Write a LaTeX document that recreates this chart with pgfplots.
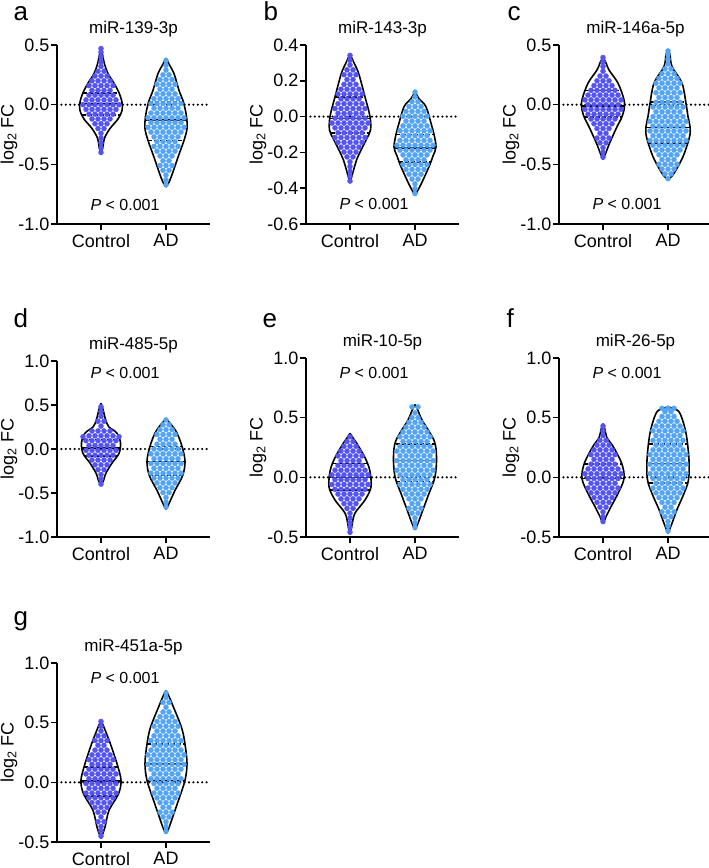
\documentclass[border=0pt]{standalone}
\usepackage{pgfplots}
\usepackage{pgfplotstable}
\usepackage{fontspec}
\setmainfont{Liberation Sans}
\pgfplotsset{compat=1.18}
\definecolor{ctrl}{RGB}{84,84,245}
\definecolor{adc}{RGB}{84,164,245}

% violin outlines: y and half width (x units = pt)
\pgfplotstableread{
y w
-0.42 0
-0.35 2
-0.28 3.5
-0.2 9
-0.12 17
-0.05 21
0.02 21
0.1 18
0.18 13
0.26 7
0.34 3.5
0.42 1.5
0.46 0
}\vaC
\pgfplotstableread{
y w
-0.69 0
-0.65 3
-0.57 6.7
-0.44 12
-0.3 18
-0.2 21
-0.1 20.5
0.02 17.5
0.12 13
0.26 8
0.34 3
0.39 0
}\vaA
\pgfplotstableread{
y w
-0.37 0
-0.3 3.5
-0.24 6.7
-0.17 12.5
-0.12 17
-0.075 20.5
0.0 20
0.11 15
0.24 8.7
0.3 4
0.35 0
}\vbC
\pgfplotstableread{
y w
-0.44 0
-0.41 3
-0.37 6.7
-0.28 14
-0.22 18
-0.17 21
-0.1 19
-0.037 16
0.055 11
0.1 4
0.14 0
}\vbA
\pgfplotstableread{
y w
-0.46 0
-0.4 3
-0.32 6.7
-0.185 14
-0.12 18
-0.045 21
0.04 21
0.18 15
0.29 6
0.35 3
0.40 0
}\vcC
\pgfplotstableread{
y w
-0.63 0
-0.575 6
-0.436 15
-0.27 21.5
-0.185 22
-0.1 20
0.01 18
0.18 14
0.32 4
0.42 2
0.46 0
}\vcA
\pgfplotstableread{
y w
-0.41 0
-0.36 2.5
-0.28 4.7
-0.16 11
-0.05 18
0.07 19.5
0.18 16
0.25 8
0.33 4.7
0.45 2
0.52 0
}\vdC
\pgfplotstableread{
y w
-0.685 0
-0.62 3
-0.47 9
-0.3 16.7
-0.14 19
0.03 16
0.18 11
0.28 5
0.34 0
}\vdA
\pgfplotstableread{
y w
-0.48 0
-0.4 2
-0.3 5
-0.19 15
-0.08 21
0.06 19.7
0.17 14.7
0.285 6.7
0.33 3
0.37 0
}\veC
\pgfplotstableread{
y w
-0.44 0
-0.385 3
-0.27 8
-0.135 14
0.005 20
0.17 21.5
0.31 19
0.48 7
0.56 3
0.61 0
}\veA
\pgfplotstableread{
y w
-0.39 0
-0.33 3
-0.246 8
-0.135 15
-0.01 21
0.117 18.7
0.26 10
0.33 4
0.40 2
0.45 0
}\vfC
\pgfplotstableread{
y w
-0.47 0
-0.385 4
-0.27 9
-0.135 16
-0.02 20.5
0.145 21
0.37 18
0.536 12
0.575 6
0.59 0
}\vfA
\pgfplotstableread{
y w
-0.47 0
-0.375 4
-0.235 8
-0.096 17.5
0.017 20
0.156 16
0.32 9.5
0.44 4
0.52 0
}\vgC
\pgfplotstableread{
y w
-0.43 0
-0.38 3
-0.29 6.7
-0.15 12.5
0.017 19
0.156 21
0.32 19
0.46 15.5
0.66 6
0.72 3
0.77 0
}\vgA

\pgfplotsset{
  vp/.style={
    width=153pt, height=179pt, scale only axis,
    xmin=-44, xmax=109, clip=false,
    axis x line*=bottom, axis y line*=left,
    axis line style={line width=1.6pt},
    every tick/.style={black, line width=1.6pt},
    tick align=outside, major tick length=6pt,
    xtick={0,65}, xticklabels={Control,AD},
    tick label style={font=\fontsize{18}{20}\selectfont},
    yticklabel style={inner xsep=1.5pt},
    xticklabel style={inner ysep=1pt, yshift=-3pt},
    ylabel={log\textsubscript{2} FC},
    ylabel style={at={(axis description cs:-0.314,0.5)}, anchor=center, font=\fontsize{18}{20}\selectfont},
    every axis title/.style={at={(axis description cs:0.5,1.0615)}, anchor=base, font=\fontsize{17}{19}\selectfont},
  },
  zl/.style={black, line width=2.4pt, line cap=round, dash pattern=on 0pt off 4.4pt},
  dC/.style={only marks, mark=*, mark size=2.5pt, color=ctrl},
  dA/.style={only marks, mark=*, mark size=2.5pt, color=adc},
  vln/.style={black, line width=1.6pt, smooth, tension=0.55, mark=none},
  med/.style={black, line width=1.6pt, mark=none},
  qrt/.style={black, line width=1.6pt, mark=none, dash pattern=on 4pt off 2pt},
}
\newcommand{\pval}[2]{\node[anchor=base, font=\fontsize{16}{18}\selectfont] at (axis cs:#1,#2) {\textit{P} < 0.001};}

\begin{document}
\begin{tikzpicture}
\useasboundingbox (0,0) rectangle (709pt,868pt);
\tikzset{lab/.style={anchor=base west, font=\fontsize{26}{28}\selectfont}}
\node[lab] at (10pt,847pt) {a};
\node[lab] at (260pt,847pt) {b};
\node[lab] at (504pt,847pt) {c};
\node[lab] at (10pt,540pt) {d};
\node[lab] at (259pt,540pt) {e};
\node[lab] at (503pt,540pt) {f};
\node[lab] at (10pt,242pt) {g};

% ---------------- a
\begin{axis}[vp, at={(57pt,644pt)}, anchor=south west, title={miR-139-3p},
  ymin=-1, ymax=0.5, ytick={-1,-0.5,0,0.5}, yticklabels={-1.0,-0.5,0.0,0.5}]
\addplot[zl] coordinates {(-44,0) (109,0)};
\addplot[dC] coordinates {
(0,-0.40) (0,-0.36) (0,-0.32) (0,-0.28) (0,-0.24)
(-3,-0.20) (3,-0.20)
(-6,-0.16) (0,-0.16) (6,-0.16)
(-9,-0.12) (-3,-0.12) (3,-0.12) (9,-0.12)
(-12,-0.08) (-6,-0.08) (0,-0.08) (6,-0.08) (12,-0.08)
(-15,-0.04) (-9,-0.04) (-3,-0.04) (3,-0.04) (9,-0.04) (15,-0.04)
(-18,0.00) (-12,0.00) (-6,0.00) (0,0.00) (6,0.00) (12,0.00) (18,0.00)
(-15,0.04) (-9,0.04) (-3,0.04) (3,0.04) (9,0.04) (15,0.04)
(-12,0.08) (-6,0.08) (0,0.08) (6,0.08) (12,0.08)
(-9,0.12) (-3,0.12) (3,0.12) (9,0.12)
(-12,0.16) (-6,0.16) (0,0.16) (6,0.16) (12,0.16)
(-9,0.20) (-3,0.20) (3,0.20) (9,0.20)
(-6,0.24) (0,0.24) (6,0.24)
(-3,0.28) (3,0.28)
(0,0.32) (0,0.36) (0,0.40) (0,0.44) (0,0.47)
};
\addplot[dA] coordinates {
(65,-0.67) (65,-0.63) (65,-0.59)
(62,-0.55) (68,-0.55)
(59,-0.51) (65,-0.51) (71,-0.51)
(62,-0.47) (68,-0.47)
(59,-0.43) (65,-0.43) (71,-0.43)
(56,-0.39) (62,-0.39) (68,-0.39) (74,-0.39)
(53,-0.35) (59,-0.35) (65,-0.35) (71,-0.35) (77,-0.35)
(56,-0.31) (62,-0.31) (68,-0.31) (74,-0.31)
(53,-0.27) (59,-0.27) (65,-0.27) (71,-0.27) (77,-0.27)
(50,-0.23) (56,-0.23) (62,-0.23) (68,-0.23) (74,-0.23) (80,-0.23)
(47,-0.19) (53,-0.19) (59,-0.19) (65,-0.19) (71,-0.19) (77,-0.19) (83,-0.19)
(50,-0.15) (56,-0.15) (62,-0.15) (68,-0.15) (74,-0.15) (80,-0.15)
(47,-0.11) (53,-0.11) (59,-0.11) (65,-0.11) (71,-0.11) (77,-0.11) (83,-0.11)
(50,-0.07) (56,-0.07) (62,-0.07) (68,-0.07) (74,-0.07) (80,-0.07)
(53,-0.03) (59,-0.03) (65,-0.03) (71,-0.03) (77,-0.03)
(50,0.01) (56,0.01) (62,0.01) (68,0.01) (74,0.01) (80,0.01)
(53,0.05) (59,0.05) (65,0.05) (71,0.05) (77,0.05)
(56,0.09) (62,0.09) (68,0.09) (74,0.09)
(59,0.13) (65,0.13) (71,0.13)
(56,0.17) (62,0.17) (68,0.17) (74,0.17)
(59,0.21) (65,0.21) (71,0.21)
(62,0.25) (68,0.25)
(65,0.29) (65,0.33) (65,0.37)
};
\addplot[vln] table[x expr=\thisrow{w}, y=y] {\vaC};
\addplot[vln] table[x expr=-\thisrow{w}, y=y] {\vaC};
\addplot[vln] table[x expr=65+\thisrow{w}, y=y] {\vaA};
\addplot[vln] table[x expr=65-\thisrow{w}, y=y] {\vaA};
\addplot[qrt] coordinates {(-18,0.1) (18,0.1)};
\addplot[med] coordinates {(-21,0.01) (21,0.01)};
\addplot[qrt] coordinates {(-19,-0.085) (19,-0.085)};
\addplot[qrt] coordinates {(47.5,0.02) (82.5,0.02)};
\addplot[med] coordinates {(44.4,-0.13) (85.6,-0.13)};
\addplot[qrt] coordinates {(47,-0.30) (83,-0.30)};
\pval{24}{-0.89}
\end{axis}

% ---------------- b
\begin{axis}[vp, at={(306pt,644pt)}, anchor=south west, title={miR-143-3p},
  ymin=-0.6, ymax=0.4, ytick={-0.6,-0.4,-0.2,0,0.2,0.4}, yticklabels={-0.6,-0.4,-0.2,0.0,0.2,0.4}]
\addplot[zl] coordinates {(-44,0) (109,0)};
\addplot[dC] coordinates {
(0,-0.360) (0,-0.333) (0,-0.306) (0,-0.279) (0,-0.252)
(-3,-0.225) (3,-0.225)
(-6,-0.198) (0,-0.198) (6,-0.198)
(-9,-0.171) (-3,-0.171) (3,-0.171) (9,-0.171)
(-12,-0.144) (-6,-0.144) (0,-0.144) (6,-0.144) (12,-0.144)
(-15,-0.117) (-9,-0.117) (-3,-0.117) (3,-0.117) (9,-0.117) (15,-0.117)
(-12,-0.090) (-6,-0.090) (0,-0.090) (6,-0.090) (12,-0.090)
(-15,-0.063) (-9,-0.063) (-3,-0.063) (3,-0.063) (9,-0.063) (15,-0.063)
(-18,-0.036) (-12,-0.036) (-6,-0.036) (0,-0.036) (6,-0.036) (12,-0.036) (18,-0.036)
(-15,-0.009) (-9,-0.009) (-3,-0.009) (3,-0.009) (9,-0.009) (15,-0.009)
(-12,0.018) (-6,0.018) (0,0.018) (6,0.018) (12,0.018)
(-15,0.045) (-9,0.045) (-3,0.045) (3,0.045) (9,0.045) (15,0.045)
(-12,0.072) (-6,0.072) (0,0.072) (6,0.072) (12,0.072)
(-9,0.099) (-3,0.099) (3,0.099) (9,0.099)
(-12,0.126) (-6,0.126) (0,0.126) (6,0.126) (12,0.126)
(-9,0.153) (-3,0.153) (3,0.153) (9,0.153)
(-6,0.180) (0,0.180) (6,0.180)
(-3,0.207) (3,0.207)
(-6,0.234) (0,0.234) (6,0.234)
(-3,0.261) (3,0.261)
(0,0.288) (0,0.315) (0,0.342)
};
\addplot[dA] coordinates {
(65,-0.430) (65,-0.403) (65,-0.376)
(62,-0.349) (68,-0.349)
(59,-0.322) (65,-0.322) (71,-0.322)
(56,-0.295) (62,-0.295) (68,-0.295) (74,-0.295)
(53,-0.268) (59,-0.268) (65,-0.268) (71,-0.268) (77,-0.268)
(56,-0.241) (62,-0.241) (68,-0.241) (74,-0.241)
(53,-0.214) (59,-0.214) (65,-0.214) (71,-0.214) (77,-0.214)
(50,-0.187) (56,-0.187) (62,-0.187) (68,-0.187) (74,-0.187) (80,-0.187)
(47,-0.160) (53,-0.160) (59,-0.160) (65,-0.160) (71,-0.160) (77,-0.160) (83,-0.160)
(50,-0.133) (56,-0.133) (62,-0.133) (68,-0.133) (74,-0.133) (80,-0.133)
(53,-0.106) (59,-0.106) (65,-0.106) (71,-0.106) (77,-0.106)
(50,-0.079) (56,-0.079) (62,-0.079) (68,-0.079) (74,-0.079) (80,-0.079)
(53,-0.052) (59,-0.052) (65,-0.052) (71,-0.052) (77,-0.052)
(56,-0.025) (62,-0.025) (68,-0.025) (74,-0.025)
(53,0.002) (59,0.002) (65,0.002) (71,0.002) (77,0.002)
(56,0.029) (62,0.029) (68,0.029) (74,0.029)
(59,0.056) (65,0.056) (71,0.056)
(62,0.083) (68,0.083)
(65,0.110) (65,0.137)
};
\addplot[vln] table[x expr=\thisrow{w}, y=y] {\vbC};
\addplot[vln] table[x expr=-\thisrow{w}, y=y] {\vbC};
\addplot[vln] table[x expr=65+\thisrow{w}, y=y] {\vbA};
\addplot[vln] table[x expr=65-\thisrow{w}, y=y] {\vbA};
\addplot[qrt] coordinates {(-15,0.11) (15,0.11)};
\addplot[med] coordinates {(-20.1,-0.01) (20.1,-0.01)};
\addplot[qrt] coordinates {(-19.3,-0.09) (19.3,-0.09)};
\addplot[qrt] coordinates {(46,-0.099) (84,-0.099)};
\addplot[med] coordinates {(44.4,-0.177) (85.6,-0.177)};
\addplot[qrt] coordinates {(49.1,-0.252) (80.9,-0.252)};
\pval{24}{-0.52}
\end{axis}

% ---------------- c
\begin{axis}[vp, at={(559pt,644pt)}, anchor=south west, title={miR-146a-5p},
  ymin=-1, ymax=0.5, ytick={-1,-0.5,0,0.5}, yticklabels={-1.0,-0.5,0.0,0.5}]
\addplot[zl] coordinates {(-44,0) (109,0)};
\addplot[dC] coordinates {
(0,-0.44) (0,-0.40) (0,-0.36)
(-3,-0.32) (3,-0.32)
(-6,-0.28) (0,-0.28) (6,-0.28)
(-3,-0.24) (3,-0.24)
(-6,-0.20) (0,-0.20) (6,-0.20)
(-9,-0.16) (-3,-0.16) (3,-0.16) (9,-0.16)
(-12,-0.12) (-6,-0.12) (0,-0.12) (6,-0.12) (12,-0.12)
(-15,-0.08) (-9,-0.08) (-3,-0.08) (3,-0.08) (9,-0.08) (15,-0.08)
(-18,-0.04) (-12,-0.04) (-6,-0.04) (0,-0.04) (6,-0.04) (12,-0.04) (18,-0.04)
(-15,0.00) (-9,0.00) (-3,0.00) (3,0.00) (9,0.00) (15,0.00)
(-18,0.04) (-12,0.04) (-6,0.04) (0,0.04) (6,0.04) (12,0.04) (18,0.04)
(-15,0.08) (-9,0.08) (-3,0.08) (3,0.08) (9,0.08) (15,0.08)
(-12,0.12) (-6,0.12) (0,0.12) (6,0.12) (12,0.12)
(-9,0.16) (-3,0.16) (3,0.16) (9,0.16)
(-6,0.20) (0,0.20) (6,0.20)
(-3,0.24) (3,0.24)
(0,0.28) (0,0.32) (0,0.36) (0,0.395)
};
\addplot[dA] coordinates {
(65,-0.62)
(62,-0.58) (68,-0.58)
(59,-0.54) (65,-0.54) (71,-0.54)
(56,-0.50) (62,-0.50) (68,-0.50) (74,-0.50)
(59,-0.46) (65,-0.46) (71,-0.46)
(56,-0.42) (62,-0.42) (68,-0.42) (74,-0.42)
(53,-0.38) (59,-0.38) (65,-0.38) (71,-0.38) (77,-0.38)
(50,-0.34) (56,-0.34) (62,-0.34) (68,-0.34) (74,-0.34) (80,-0.34)
(47,-0.30) (53,-0.30) (59,-0.30) (65,-0.30) (71,-0.30) (77,-0.30) (83,-0.30)
(50,-0.26) (56,-0.26) (62,-0.26) (68,-0.26) (74,-0.26) (80,-0.26)
(47,-0.22) (53,-0.22) (59,-0.22) (65,-0.22) (71,-0.22) (77,-0.22) (83,-0.22)
(50,-0.18) (56,-0.18) (62,-0.18) (68,-0.18) (74,-0.18) (80,-0.18)
(47,-0.14) (53,-0.14) (59,-0.14) (65,-0.14) (71,-0.14) (77,-0.14) (83,-0.14)
(50,-0.10) (56,-0.10) (62,-0.10) (68,-0.10) (74,-0.10) (80,-0.10)
(53,-0.06) (59,-0.06) (65,-0.06) (71,-0.06) (77,-0.06)
(50,-0.02) (56,-0.02) (62,-0.02) (68,-0.02) (74,-0.02) (80,-0.02)
(53,0.02) (59,0.02) (65,0.02) (71,0.02) (77,0.02)
(56,0.06) (62,0.06) (68,0.06) (74,0.06)
(53,0.10) (59,0.10) (65,0.10) (71,0.10) (77,0.10)
(56,0.14) (62,0.14) (68,0.14) (74,0.14)
(53,0.18) (59,0.18) (65,0.18) (71,0.18) (77,0.18)
(56,0.22) (62,0.22) (68,0.22) (74,0.22)
(59,0.26) (65,0.26) (71,0.26)
(62,0.30) (68,0.30)
(65,0.34) (65,0.38) (65,0.42) (65,0.45)
};
\addplot[vln] table[x expr=\thisrow{w}, y=y] {\vcC};
\addplot[vln] table[x expr=-\thisrow{w}, y=y] {\vcC};
\addplot[vln] table[x expr=65+\thisrow{w}, y=y] {\vcA};
\addplot[vln] table[x expr=65-\thisrow{w}, y=y] {\vcA};
\addplot[qrt] coordinates {(-17.6,0.12) (17.6,0.12)};
\addplot[med] coordinates {(-21,-0.01) (21,-0.01)};
\addplot[qrt] coordinates {(-18.6,-0.105) (18.6,-0.105)};
\addplot[qrt] coordinates {(47.2,0.02) (82.8,0.02)};
\addplot[med] coordinates {(43.1,-0.19) (86.9,-0.19)};
\addplot[qrt] coordinates {(45.1,-0.32) (84.9,-0.32)};
\pval{24}{-0.88}
\end{axis}

% ---------------- d
\begin{axis}[vp, height=176pt, at={(57pt,331pt)}, anchor=south west, title={miR-485-5p},
  every axis title/.append style={at={(axis description cs:0.5,1.0625)}},
  ymin=-1, ymax=1, ytick={-1,-0.5,0,0.5,1}, yticklabels={-1.0,-0.5,0.0,0.5,1.0}]
\addplot[zl] coordinates {(-44,0) (109,0)};
\addplot[dC] coordinates {
(0,-0.400) (0,-0.345) (0,-0.290)
(-3,-0.235) (3,-0.235)
(-6,-0.180) (0,-0.180) (6,-0.180)
(-9,-0.125) (-3,-0.125) (3,-0.125) (9,-0.125)
(-12,-0.070) (-6,-0.070) (0,-0.070) (6,-0.070) (12,-0.070)
(-15,-0.015) (-9,-0.015) (-3,-0.015) (3,-0.015) (9,-0.015) (15,-0.015)
(-12,0.040) (-6,0.040) (0,0.040) (6,0.040) (12,0.040)
(-15,0.095) (-9,0.095) (-3,0.095) (3,0.095) (9,0.095) (15,0.095)
(-18,0.140) (-12,0.150) (-6,0.150) (0,0.150) (6,0.150) (12,0.150) (18,0.140)
(-9,0.205) (-3,0.205) (3,0.205) (9,0.205)
(0,0.260)
(-3,0.315) (3,0.315)
(0,0.370) (0,0.425) (0,0.480)
};
\addplot[dA] coordinates {
(65,-0.660) (65,-0.605) (65,-0.550)
(62,-0.495) (68,-0.495)
(59,-0.440) (65,-0.440) (71,-0.440)
(56,-0.385) (62,-0.385) (68,-0.385) (74,-0.385)
(53,-0.330) (59,-0.330) (65,-0.330) (71,-0.330) (77,-0.330)
(50,-0.275) (56,-0.275) (62,-0.275) (68,-0.275) (74,-0.275) (80,-0.275)
(53,-0.220) (59,-0.220) (65,-0.220) (71,-0.220) (77,-0.220)
(50,-0.165) (56,-0.165) (62,-0.165) (68,-0.165) (74,-0.165) (80,-0.165)
(53,-0.110) (59,-0.110) (65,-0.110) (71,-0.110) (77,-0.110)
(50,-0.055) (56,-0.055) (62,-0.055) (68,-0.055) (74,-0.055) (80,-0.055)
(53,0.000) (59,0.000) (65,0.000) (71,0.000) (77,0.000)
(56,0.055) (62,0.055) (68,0.055) (74,0.055)
(59,0.110) (65,0.110) (71,0.110)
(56,0.165) (62,0.165) (68,0.165) (74,0.165)
(59,0.220) (65,0.220) (71,0.220)
(62,0.275) (68,0.275)
(65,0.330)
};
\addplot[vln] table[x expr=\thisrow{w}, y=y] {\vdC};
\addplot[vln] table[x expr=-\thisrow{w}, y=y] {\vdC};
\addplot[vln] table[x expr=65+\thisrow{w}, y=y] {\vdA};
\addplot[vln] table[x expr=65-\thisrow{w}, y=y] {\vdA};
\addplot[qrt] coordinates {(-18.2,0.11) (18.2,0.11)};
\addplot[med] coordinates {(-18.8,0.01) (18.8,0.01)};
\addplot[qrt] coordinates {(-16.1,-0.08) (16.1,-0.08)};
\addplot[qrt] coordinates {(49,0.03) (81,0.03)};
\addplot[med] coordinates {(46,-0.14) (84,-0.14)};
\addplot[qrt] coordinates {(48.3,-0.30) (81.7,-0.30)};
\pval{24}{0.80}
\end{axis}

% ---------------- e
\begin{axis}[vp, at={(306pt,331pt)}, anchor=south west, title={miR-10-5p},
  ymin=-0.5, ymax=1, ytick={-0.5,0,0.5,1}, yticklabels={-0.5,0.0,0.5,1.0}]
\addplot[zl] coordinates {(-44,0) (109,0)};
\addplot[dC] coordinates {
(0,-0.46) (0,-0.42) (0,-0.38) (0,-0.34) (0,-0.30)
(-3,-0.26) (3,-0.26)
(-6,-0.22) (0,-0.22) (6,-0.22)
(-9,-0.18) (-3,-0.18) (3,-0.18) (9,-0.18)
(-12,-0.14) (-6,-0.14) (0,-0.14) (6,-0.14) (12,-0.14)
(-15,-0.10) (-9,-0.10) (-3,-0.10) (3,-0.10) (9,-0.10) (15,-0.10)
(-18,-0.06) (-12,-0.06) (-6,-0.06) (0,-0.06) (6,-0.06) (12,-0.06) (18,-0.06)
(-15,-0.02) (-9,-0.02) (-3,-0.02) (3,-0.02) (9,-0.02) (15,-0.02)
(-18,0.02) (-12,0.02) (-6,0.02) (0,0.02) (6,0.02) (12,0.02) (18,0.02)
(-15,0.06) (-9,0.06) (-3,0.06) (3,0.06) (9,0.06) (15,0.06)
(-12,0.10) (-6,0.10) (0,0.10) (6,0.10) (12,0.10)
(-9,0.14) (-3,0.14) (3,0.14) (9,0.14)
(-12,0.18) (-6,0.18) (0,0.18) (6,0.18) (12,0.18)
(-9,0.22) (-3,0.22) (3,0.22) (9,0.22)
(-6,0.26) (0,0.26) (6,0.26)
(-3,0.30) (3,0.30)
(0,0.34)
};
\addplot[dA] coordinates {
(65,-0.42) (65,-0.38) (65,-0.34)
(62,-0.30) (68,-0.30)
(59,-0.26) (65,-0.26) (71,-0.26)
(62,-0.22) (68,-0.22)
(59,-0.18) (65,-0.18) (71,-0.18)
(56,-0.14) (62,-0.14) (68,-0.14) (74,-0.14)
(53,-0.10) (59,-0.10) (65,-0.10) (71,-0.10) (77,-0.10)
(50,-0.06) (56,-0.06) (62,-0.06) (68,-0.06) (74,-0.06) (80,-0.06)
(53,-0.02) (59,-0.02) (65,-0.02) (71,-0.02) (77,-0.02)
(50,0.02) (56,0.02) (62,0.02) (68,0.02) (74,0.02) (80,0.02)
(47,0.06) (53,0.06) (59,0.06) (65,0.06) (71,0.06) (77,0.06) (83,0.06)
(50,0.10) (56,0.10) (62,0.10) (68,0.10) (74,0.10) (80,0.10)
(47,0.14) (53,0.14) (59,0.14) (65,0.14) (71,0.14) (77,0.14) (83,0.14)
(50,0.18) (56,0.18) (62,0.18) (68,0.18) (74,0.18) (80,0.18)
(47,0.22) (53,0.22) (59,0.22) (65,0.22) (71,0.22) (77,0.22) (83,0.22)
(50,0.26) (56,0.26) (62,0.26) (68,0.26) (74,0.26) (80,0.26)
(53,0.30) (59,0.30) (65,0.30) (71,0.30) (77,0.30)
(50,0.34) (56,0.34) (62,0.34) (68,0.34) (74,0.34) (80,0.34)
(53,0.38) (59,0.38) (65,0.38) (71,0.38) (77,0.38)
(56,0.42) (62,0.42) (68,0.42) (74,0.42)
(59,0.46) (65,0.46) (71,0.46)
(62,0.50) (68,0.50)
(65,0.54)
(62,0.59) (68,0.59)
};
\addplot[vln] table[x expr=\thisrow{w}, y=y] {\veC};
\addplot[vln] table[x expr=-\thisrow{w}, y=y] {\veC};
\addplot[vln] table[x expr=65+\thisrow{w}, y=y] {\veA};
\addplot[vln] table[x expr=65-\thisrow{w}, y=y] {\veA};
\addplot[qrt] coordinates {(-16.9,0.117) (16.9,0.117)};
\addplot[med] coordinates {(-20.3,0.0) (20.3,0.0)};
\addplot[qrt] coordinates {(-19.6,-0.105) (19.6,-0.105)};
\addplot[qrt] coordinates {(45.5,0.28) (84.5,0.28)};
\addplot[med] coordinates {(43.6,0.14) (86.4,0.14)};
\addplot[qrt] coordinates {(46.3,-0.035) (83.7,-0.035)};
\pval{24}{0.83}
\end{axis}

% ---------------- f
\begin{axis}[vp, at={(559pt,331pt)}, anchor=south west, title={miR-26-5p},
  ymin=-0.5, ymax=1, ytick={-0.5,0,0.5,1}, yticklabels={-0.5,0.0,0.5,1.0}]
\addplot[zl] coordinates {(-44,0) (109,0)};
\addplot[dC] coordinates {
(0,-0.37) (0,-0.33) (0,-0.29)
(-3,-0.25) (3,-0.25)
(-6,-0.21) (0,-0.21) (6,-0.21)
(-9,-0.17) (-3,-0.17) (3,-0.17) (9,-0.17)
(-12,-0.13) (-6,-0.13) (0,-0.13) (6,-0.13) (12,-0.13)
(-15,-0.09) (-9,-0.09) (-3,-0.09) (3,-0.09) (9,-0.09) (15,-0.09)
(-12,-0.05) (-6,-0.05) (0,-0.05) (6,-0.05) (12,-0.05)
(-15,-0.01) (-9,-0.01) (-3,-0.01) (3,-0.01) (9,-0.01) (15,-0.01)
(-18,0.03) (-12,0.03) (-6,0.03) (0,0.03) (6,0.03) (12,0.03) (18,0.03)
(-15,0.07) (-9,0.07) (-3,0.07) (3,0.07) (9,0.07) (15,0.07)
(-12,0.11) (-6,0.11) (0,0.11) (6,0.11) (12,0.11)
(-9,0.15) (-3,0.15) (3,0.15) (9,0.15)
(-12,0.19) (-6,0.19) (0,0.19) (6,0.19) (12,0.19)
(-9,0.23) (-3,0.23) (3,0.23) (9,0.23)
(-6,0.27) (0,0.27) (6,0.27)
(-3,0.31) (3,0.31)
(0,0.35) (0,0.39) (0,0.43)
};
\addplot[dA] coordinates {
(65,-0.45) (65,-0.41) (65,-0.37)
(62,-0.33) (68,-0.33)
(59,-0.29) (65,-0.29) (71,-0.29)
(62,-0.25) (68,-0.25)
(59,-0.21) (65,-0.21) (71,-0.21)
(56,-0.17) (62,-0.17) (68,-0.17) (74,-0.17)
(53,-0.13) (59,-0.13) (65,-0.13) (71,-0.13) (77,-0.13)
(50,-0.09) (56,-0.09) (62,-0.09) (68,-0.09) (74,-0.09) (80,-0.09)
(53,-0.05) (59,-0.05) (65,-0.05) (71,-0.05) (77,-0.05)
(50,-0.01) (56,-0.01) (62,-0.01) (68,-0.01) (74,-0.01) (80,-0.01)
(47,0.03) (53,0.03) (59,0.03) (65,0.03) (71,0.03) (77,0.03) (83,0.03)
(50,0.07) (56,0.07) (62,0.07) (68,0.07) (74,0.07) (80,0.07)
(47,0.11) (53,0.11) (59,0.11) (65,0.11) (71,0.11) (77,0.11) (83,0.11)
(50,0.15) (56,0.15) (62,0.15) (68,0.15) (74,0.15) (80,0.15)
(47,0.19) (53,0.19) (59,0.19) (65,0.19) (71,0.19) (77,0.19) (83,0.19)
(50,0.23) (56,0.23) (62,0.23) (68,0.23) (74,0.23) (80,0.23)
(53,0.27) (59,0.27) (65,0.27) (71,0.27) (77,0.27)
(50,0.31) (56,0.31) (62,0.31) (68,0.31) (74,0.31) (80,0.31)
(53,0.35) (59,0.35) (65,0.35) (71,0.35) (77,0.35)
(50,0.39) (56,0.39) (62,0.39) (68,0.39) (74,0.39) (80,0.39)
(53,0.43) (59,0.43) (65,0.43) (71,0.43) (77,0.43)
(56,0.47) (62,0.47) (68,0.47) (74,0.47)
(59,0.51) (65,0.51) (71,0.51)
(62,0.55) (68,0.55)
(59,0.578) (65,0.58) (71,0.578)
};
\addplot[vln] table[x expr=\thisrow{w}, y=y] {\vfC};
\addplot[vln] table[x expr=-\thisrow{w}, y=y] {\vfC};
\addplot[vln] table[x expr=65+\thisrow{w}, y=y] {\vfA};
\addplot[vln] table[x expr=65-\thisrow{w}, y=y] {\vfA};
\addplot[qrt] coordinates {(-18.8,0.11) (18.8,0.11)};
\addplot[med] coordinates {(-21,-0.01) (21,-0.01)};
\addplot[qrt] coordinates {(-16.7,-0.1) (16.7,-0.1)};
\addplot[qrt] coordinates {(45.8,0.28) (84.2,0.28)};
\addplot[med] coordinates {(44.1,0.117) (85.9,0.117)};
\addplot[qrt] coordinates {(45.5,-0.045) (84.5,-0.045)};
\pval{24}{0.83}
\end{axis}

% ---------------- g
\begin{axis}[vp, at={(57pt,26pt)}, anchor=south west, title={miR-451a-5p},
  ymin=-0.5, ymax=1, ytick={-0.5,0,0.5,1}, yticklabels={-0.5,0.0,0.5,1.0}]
\addplot[zl] coordinates {(-44,0) (109,0)};
\addplot[dC] coordinates {
(0,-0.45) (0,-0.41) (0,-0.37)
(-3,-0.33) (3,-0.33)
(0,-0.29)
(-3,-0.25) (3,-0.25)
(-6,-0.21) (0,-0.21) (6,-0.21)
(-9,-0.17) (-3,-0.17) (3,-0.17) (9,-0.17)
(-12,-0.13) (-6,-0.13) (0,-0.13) (6,-0.13) (12,-0.13)
(-15,-0.09) (-9,-0.09) (-3,-0.09) (3,-0.09) (9,-0.09) (15,-0.09)
(-12,-0.05) (-6,-0.05) (0,-0.05) (6,-0.05) (12,-0.05)
(-15,-0.01) (-9,-0.01) (-3,-0.01) (3,-0.01) (9,-0.01) (15,-0.01)
(-12,0.03) (-6,0.03) (0,0.03) (6,0.03) (12,0.03)
(-15,0.07) (-9,0.07) (-3,0.07) (3,0.07) (9,0.07) (15,0.07)
(-12,0.11) (-6,0.11) (0,0.11) (6,0.11) (12,0.11)
(-9,0.15) (-3,0.15) (3,0.15) (9,0.15)
(-12,0.19) (-6,0.19) (0,0.19) (6,0.19) (12,0.19)
(-9,0.23) (-3,0.23) (3,0.23) (9,0.23)
(-6,0.27) (0,0.27) (6,0.27)
(-3,0.31) (3,0.31)
(-6,0.35) (0,0.35) (6,0.35)
(-3,0.39) (3,0.39)
(0,0.43) (0,0.47) (0,0.51)
};
\addplot[dA] coordinates {
(65,-0.41) (65,-0.37) (65,-0.33)
(62,-0.29) (68,-0.29)
(59,-0.25) (65,-0.25) (71,-0.25)
(62,-0.21) (68,-0.21)
(59,-0.17) (65,-0.17) (71,-0.17)
(56,-0.13) (62,-0.13) (68,-0.13) (74,-0.13)
(53,-0.09) (59,-0.09) (65,-0.09) (71,-0.09) (77,-0.09)
(56,-0.05) (62,-0.05) (68,-0.05) (74,-0.05)
(53,-0.01) (59,-0.01) (65,-0.01) (71,-0.01) (77,-0.01)
(50,0.03) (56,0.03) (62,0.03) (68,0.03) (74,0.03) (80,0.03)
(53,0.07) (59,0.07) (65,0.07) (71,0.07) (77,0.07)
(50,0.11) (56,0.11) (62,0.11) (68,0.11) (74,0.11) (80,0.11)
(47,0.15) (53,0.15) (59,0.15) (65,0.15) (71,0.15) (77,0.15) (83,0.15)
(50,0.19) (56,0.19) (62,0.19) (68,0.19) (74,0.19) (80,0.19)
(47,0.23) (53,0.23) (59,0.23) (65,0.23) (71,0.23) (77,0.23) (83,0.23)
(50,0.27) (56,0.27) (62,0.27) (68,0.27) (74,0.27) (80,0.27)
(53,0.31) (59,0.31) (65,0.31) (71,0.31) (77,0.31)
(50,0.35) (56,0.35) (62,0.35) (68,0.35) (74,0.35) (80,0.35)
(53,0.39) (59,0.39) (65,0.39) (71,0.39) (77,0.39)
(56,0.43) (62,0.43) (68,0.43) (74,0.43)
(53,0.47) (59,0.47) (65,0.47) (71,0.47) (77,0.47)
(56,0.51) (62,0.51) (68,0.51) (74,0.51)
(59,0.55) (65,0.55) (71,0.55)
(62,0.59) (68,0.59)
(65,0.63)
(62,0.67) (68,0.67)
(65,0.71) (65,0.75)
};
\addplot[vln] table[x expr=\thisrow{w}, y=y] {\vgC};
\addplot[vln] table[x expr=-\thisrow{w}, y=y] {\vgC};
\addplot[vln] table[x expr=65+\thisrow{w}, y=y] {\vgA};
\addplot[vln] table[x expr=65-\thisrow{w}, y=y] {\vgA};
\addplot[qrt] coordinates {(-16.6,0.128) (16.6,0.128)};
\addplot[med] coordinates {(-19.8,0.01) (19.8,0.01)};
\addplot[qrt] coordinates {(-16.2,-0.115) (16.2,-0.115)};
\addplot[qrt] coordinates {(46,0.32) (84,0.32)};
\addplot[med] coordinates {(44,0.156) (86,0.156)};
\addplot[qrt] coordinates {(46.1,0.01) (83.9,0.01)};
\pval{24}{0.83}
\end{axis}
\end{tikzpicture}
\end{document}
